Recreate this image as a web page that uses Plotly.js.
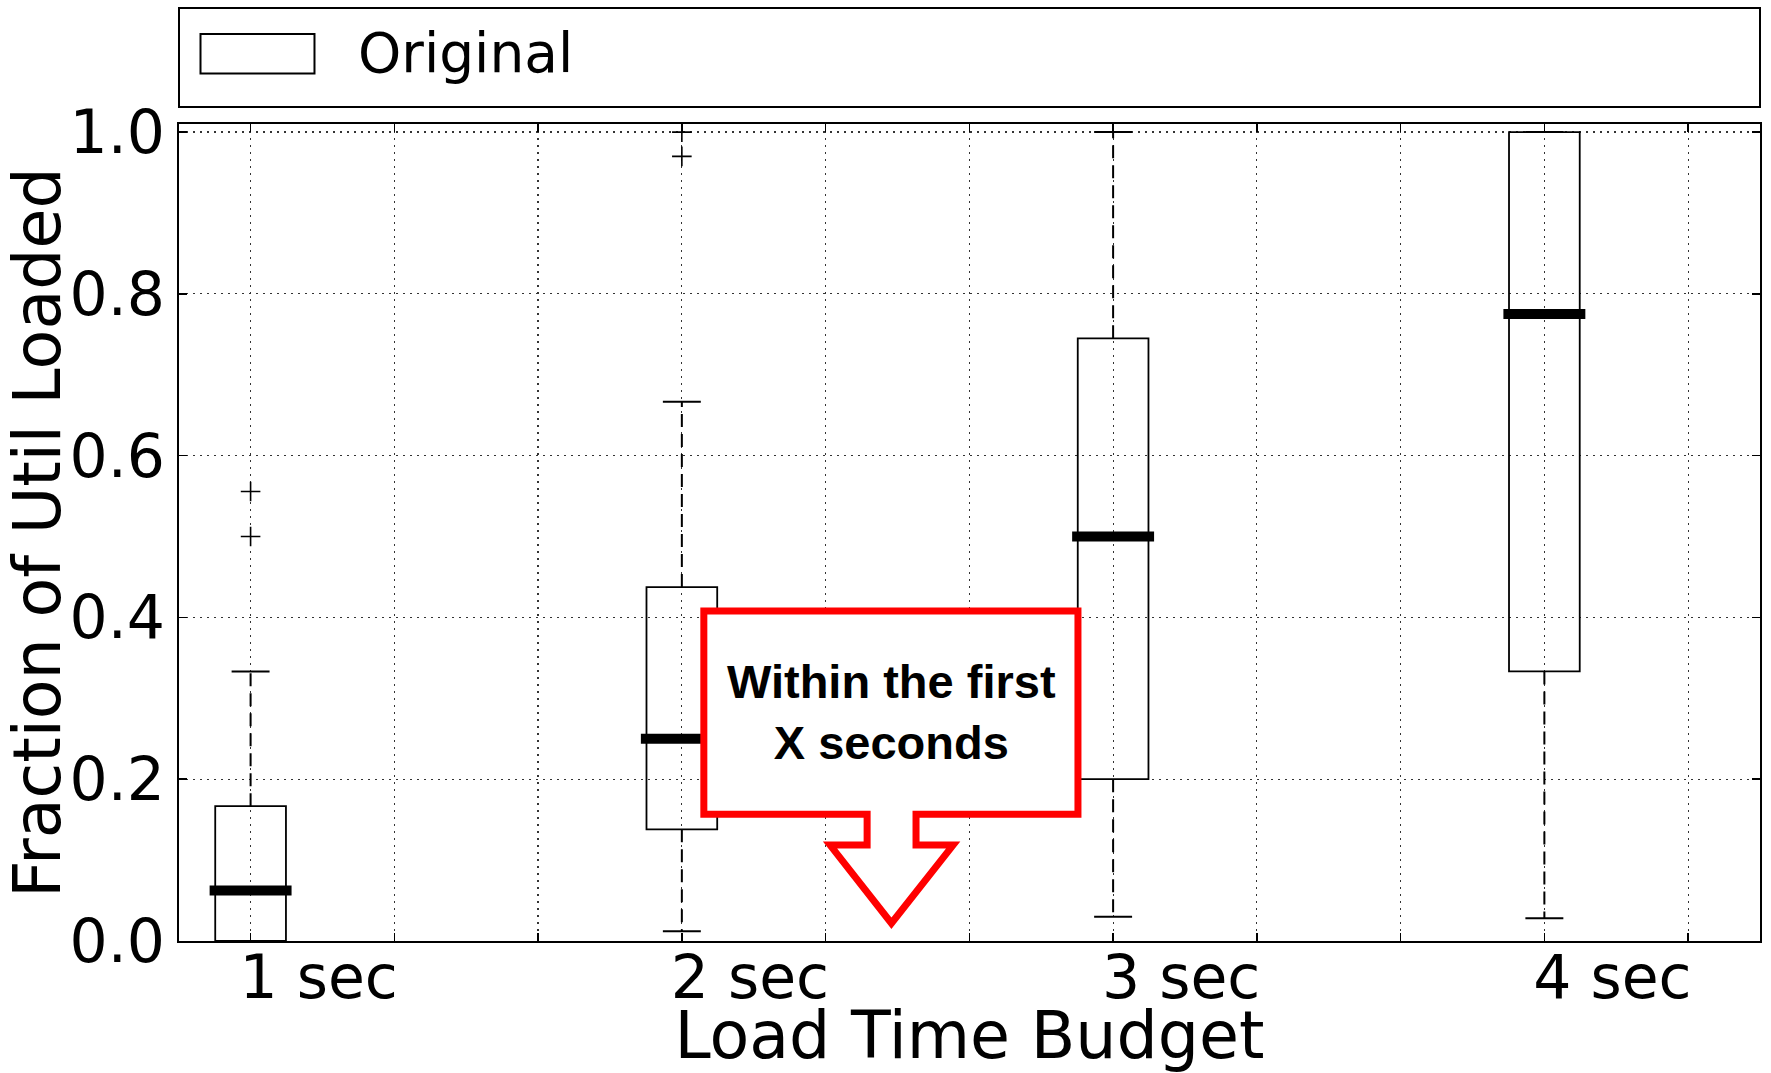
<!DOCTYPE html>
<html>
<head>
<meta charset="utf-8">
<script src="https://cdn.plot.ly/plotly-3.0.1.min.js"></script>
<style>html,body{margin:0;padding:0;background:#fff;}#chart{width:1771px;height:1073px;}</style>
</head>
<body>
<div id="chart"></div>
<script>
// ---- data ----
const categories = ['1 sec', '2 sec', '3 sec', '4 sec'];
const q1 = [0.0, 0.138, 0.2, 0.3333];
const median = [0.0625, 0.25, 0.5, 0.775];
const q3 = [0.1667, 0.4375, 0.745, 1.0];
const whiskerLow = [0.0, 0.012, 0.03, 0.028];
const whiskerHigh = [0.3333, 0.6667, 1.0, 1.0];
const outlierGroup = [0, 0, 1, 1];
const outlierValue = [0.5, 0.5556, 0.97, 1.0];
const seriesName = 'Original';
const axisTitleX = 'Load Time Budget';
const axisTitleY = 'Fraction of Util Loaded';
const calloutText = 'Within the first<br>X seconds';

// ---- layout helpers (styling, not data) ----
const pos = categories.map((c, i) => i + 1);
const boxW = 0.164, capHalf = 0.044, medHalf = 0.095;

const wx = [], wy = [], cx = [], cy = [], mx = [], my = [];
pos.forEach((p, i) => {
  wx.push(p, p, null, p, p, null);
  wy.push(q3[i], whiskerHigh[i], null, q1[i], whiskerLow[i], null);
  cx.push(p - capHalf, p + capHalf, null, p - capHalf, p + capHalf, null);
  cy.push(whiskerHigh[i], whiskerHigh[i], null, whiskerLow[i], whiskerLow[i], null);
  mx.push(p - medHalf, p + medHalf, null);
  my.push(median[i], median[i], null);
});

const traces = [
  {
    type: 'box', name: seriesName, x: pos, q1: q1, median: median, q3: q3,
    lowerfence: q1, upperfence: q3, width: boxW, whiskerwidth: 0,
    boxpoints: false, fillcolor: 'rgba(0,0,0,0)',
    line: {color: 'black', width: 1.8}, hoverinfo: 'skip', showlegend: false
  },
  {type: 'scatter', mode: 'lines', x: wx, y: wy, line: {color: 'black', width: 2, dash: '13px,7px'}, showlegend: false, hoverinfo: 'skip'},
  {type: 'scatter', mode: 'lines', x: cx, y: cy, line: {color: 'black', width: 2}, showlegend: false, hoverinfo: 'skip', cliponaxis: false},
  {type: 'scatter', mode: 'lines', x: mx, y: my, line: {color: 'black', width: 10}, showlegend: false, hoverinfo: 'skip'},
  {type: 'scatter', mode: 'markers', x: outlierGroup.map(g => pos[g]), y: outlierValue,
   marker: {symbol: 'cross-thin', size: 14, line: {color: 'black', width: 1.6}}, showlegend: false, hoverinfo: 'skip', cliponaxis: false}
];

const gridStyle = {gridcolor: '#333', gridwidth: 1.2, griddash: '1.5px,5.5px'};
const fontMain = 'DejaVu Sans, Liberation Sans, sans-serif';

const layout = {
  width: 1771, height: 1073,
  margin: {l: 178.5, r: 11, t: 124, b: 132},
  paper_bgcolor: 'white', plot_bgcolor: 'white',
  showlegend: false,
  font: {family: fontMain, color: 'black'},
  xaxis: Object.assign({
    range: [0.834, 4.5], tickmode: 'array', tickvals: pos, ticktext: categories,
    ticks: 'inside', ticklen: 8, tickwidth: 1.5, tickcolor: 'black',
    showline: true, linecolor: 'black', linewidth: 2, mirror: 'ticks',
    showgrid: true, zeroline: false,
    tickfont: {family: fontMain, size: 60, color: 'black'},
    ticklabelshift: 68, ticklabelstandoff: -17,
    minor: Object.assign({tick0: 1, dtick: 1 / 3, ticks: 'inside', ticklen: 8, tickwidth: 1.5, tickcolor: 'black', showgrid: true}, gridStyle),
    title: {text: axisTitleX, font: {family: fontMain, size: 65, color: 'black'}, standoff: 0}
  }, gridStyle),
  yaxis: Object.assign({
    range: [0, 1.01], tickmode: 'linear', tick0: 0, dtick: 0.2, tickformat: '.1f',
    ticks: 'inside', ticklen: 8, tickwidth: 1.5, tickcolor: 'black',
    showline: true, linecolor: 'black', linewidth: 2, mirror: 'ticks',
    showgrid: true, zeroline: false,
    tickfont: {family: fontMain, size: 60, color: 'black'},
    title: {text: axisTitleY, font: {family: fontMain, size: 65, color: 'black'}, standoff: 0}
  }, gridStyle),
  shapes: [
    // legend frame
    {type: 'rect', xref: 'paper', yref: 'paper', x0: 0, x1: 1, y0: 1.0208, y1: 1.142,
     line: {color: 'black', width: 2}, fillcolor: 'white', layer: 'above'},
    // legend swatch
    {type: 'rect', xref: 'paper', yref: 'paper', x0: 0.0136, x1: 0.0857, y0: 1.0619, y1: 1.1103,
     line: {color: 'black', width: 2}, fillcolor: 'white', layer: 'above'},
    // callout
    {type: 'path', xref: 'x', yref: 'y', layer: 'above',
     path: 'M 2.051,0.408 L 2.9185,0.408 L 2.9185,0.1566 L 2.543,0.1566 L 2.543,0.1186 L 2.629,0.1186 L 2.486,0.0219 L 2.3437,0.1186 L 2.4296,0.1186 L 2.4296,0.1566 L 2.051,0.1566 Z',
     line: {color: '#ff0000', width: 7}, fillcolor: 'white'}
  ],
  annotations: [
    {xref: 'paper', yref: 'paper', x: 0.112, y: 1.0869, xanchor: 'left', yanchor: 'middle',
     text: seriesName, showarrow: false, font: {family: fontMain, size: 55, color: 'black'}},
    {xref: 'x', yref: 'y', x: 2.486, y: 0.283, xanchor: 'center', yanchor: 'middle',
     text: '<b>' + calloutText + '</b>', showarrow: false,
     font: {family: 'Liberation Sans, Arial, sans-serif', size: 47, color: 'black'}}
  ]
};

Plotly.newPlot('chart', traces, layout, {staticPlot: true, displayModeBar: false});
</script>
</body>
</html>
